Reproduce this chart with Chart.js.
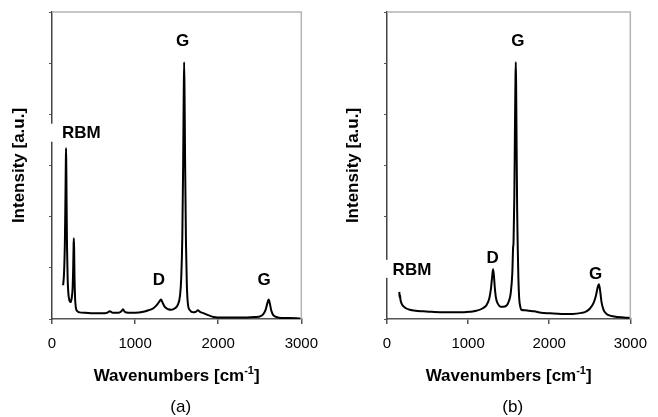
<!DOCTYPE html>
<html>
<head>
<meta charset="utf-8">
<script src="https://cdn.jsdelivr.net/npm/chart.js@4.4.1/dist/chart.umd.min.js"></script>
<style>
  html, body { margin: 0; padding: 0; background: #fff; }
  #wrap { position: relative; width: 658px; height: 417px; }
  .panel { position: absolute; top: 0; width: 329px; height: 417px; }
  #panelA { left: 0; }
  #panelB { left: 329px; }
</style>
</head>
<body>
<div id="wrap">
  <div class="panel" id="panelA"><canvas id="chartA" width="329" height="417"></canvas></div>
  <div class="panel" id="panelB"><canvas id="chartB" width="329" height="417"></canvas></div>
</div>
<script>
// x axis: Raman shift, 0 - 3000 cm-1
const xTicks = [0, 1000, 2000, 3000];

// Panel (a) spectrum
const wavenumbersA = [134, 145, 155, 162, 166, 169, 172, 176, 181, 188, 197, 210, 224, 238, 248, 255, 260, 263, 266, 271, 278, 287, 300, 331, 400, 500, 600, 660, 697, 730, 800, 835, 854, 875, 920, 1000, 1100, 1160, 1220, 1265, 1295, 1312, 1330, 1360, 1400, 1433, 1480, 1515, 1540, 1555, 1568, 1578, 1585, 1590, 1595, 1602, 1612, 1622, 1635, 1660, 1700, 1730, 1756, 1780, 1830, 1890, 1945, 2050, 2200, 2350, 2450, 2500, 2540, 2570, 2590, 2607, 2622, 2638, 2660, 2700, 2760, 2850, 2990];
const intensityA = [0.66, 0.9, 1.5, 2.4, 3.0, 3.34, 3.0, 2.2, 1.4, 0.8, 0.5, 0.36, 0.33, 0.42, 0.6, 1.0, 1.45, 1.58, 1.4, 0.8, 0.4, 0.22, 0.16, 0.13, 0.12, 0.11, 0.11, 0.12, 0.15, 0.12, 0.12, 0.15, 0.19, 0.14, 0.12, 0.12, 0.14, 0.17, 0.21, 0.28, 0.35, 0.38, 0.32, 0.23, 0.19, 0.18, 0.21, 0.28, 0.45, 0.8, 1.6, 3.0, 4.4, 5.02, 4.4, 3.0, 1.5, 0.7, 0.3, 0.17, 0.13, 0.14, 0.17, 0.14, 0.11, 0.07, 0.04, 0.03, 0.03, 0.03, 0.04, 0.05, 0.09, 0.18, 0.3, 0.38, 0.3, 0.17, 0.08, 0.04, 0.02, 0.02, 0.01];

// Panel (b) spectrum
const wavenumbersB = [152, 156, 160, 166, 180, 200, 233, 280, 352, 450, 550, 708, 850, 950, 1024, 1100, 1182, 1230, 1261, 1282, 1298, 1308, 1318, 1330, 1345, 1370, 1400, 1440, 1479, 1505, 1525, 1545, 1555, 1560, 1570, 1578, 1584, 1588, 1592, 1598, 1605, 1612, 1620, 1630, 1645, 1657, 1700, 1750, 1814, 1900, 2012, 2150, 2289, 2400, 2447, 2500, 2546, 2575, 2598, 2613, 2628, 2645, 2670, 2700, 2724, 2800, 2921, 3000];
const intensityB = [0.53, 0.42, 0.47, 0.38, 0.3, 0.25, 0.21, 0.18, 0.16, 0.15, 0.14, 0.13, 0.13, 0.13, 0.14, 0.16, 0.21, 0.28, 0.4, 0.6, 0.85, 0.97, 0.85, 0.6, 0.4, 0.29, 0.24, 0.24, 0.27, 0.36, 0.5, 0.9, 1.4, 1.49, 2.4, 3.8, 4.7, 5.02, 4.6, 3.4, 2.1, 1.4, 0.8, 0.4, 0.23, 0.18, 0.17, 0.16, 0.15, 0.12, 0.11, 0.1, 0.1, 0.12, 0.14, 0.2, 0.31, 0.45, 0.62, 0.68, 0.55, 0.33, 0.18, 0.11, 0.08, 0.05, 0.03, 0.02];

// Peak names and where they sit (wavenumber, intensity)
const peakLabelsA = [
  { text: 'RBM', x: 354, y: 3.64, box: true },
  { text: 'G', x: 1571, y: 5.44 },
  { text: 'D', x: 1287, y: 0.78 },
  { text: 'G', x: 2551, y: 0.78 }
];
const peakLabelsB = [
  { text: 'RBM', x: 308, y: 0.98, box: true },
  { text: 'D', x: 1304, y: 1.21 },
  { text: 'G', x: 1613, y: 5.44 },
  { text: 'G', x: 2573, y: 0.90 }
];

const FONT = "'Liberation Sans', Arial, sans-serif";

// Draws peak names, x axis title with superscript, caption and light frame
const decorPlugin = {
  id: 'decor',
  afterDraw(chart, args, opts) {
    const { ctx, chartArea, scales } = chart;
    ctx.save();

    // light grey top / right frame
    ctx.strokeStyle = '#b4b4b4';
    ctx.lineWidth = 1.5;
    ctx.beginPath();
    ctx.moveTo(chartArea.left, chartArea.top);
    ctx.lineTo(chartArea.right, chartArea.top);
    ctx.lineTo(chartArea.right, chartArea.bottom);
    ctx.stroke();

    // peak labels
    ctx.font = 'bold 17px ' + FONT;
    ctx.textAlign = 'center';
    ctx.textBaseline = 'middle';
    opts.labels.forEach(l => {
      const px = scales.x.getPixelForValue(l.x);
      const py = scales.y.getPixelForValue(l.y);
      const w = ctx.measureText(l.text).width;
      if (l.box) {
        ctx.fillStyle = '#fff';
        ctx.fillRect(px - w / 2 - 12, py - 9, w + 15, 18);
      }
      ctx.fillStyle = '#000';
      ctx.fillText(l.text, px, py + 1);
    });

    // x axis title: Wavenumbers [cm-1]
    const cx = (chartArea.left + chartArea.right) / 2;
    const ty = 375;
    const big = 'bold 17px ' + FONT;
    const small = 'bold 11px ' + FONT;
    ctx.font = big;
    const w1 = ctx.measureText('Wavenumbers [cm').width;
    const w3 = ctx.measureText(']').width;
    ctx.font = small;
    const w2 = ctx.measureText('-1').width;
    let x0 = cx - (w1 + w2 + w3) / 2;
    ctx.textAlign = 'left';
    ctx.textBaseline = 'alphabetic';
    ctx.fillStyle = '#000';
    ctx.font = big;
    ctx.fillText('Wavenumbers [cm', x0, ty + 6);
    ctx.font = small;
    ctx.fillText('-1', x0 + w1, ty - 1);
    ctx.font = big;
    ctx.fillText(']', x0 + w1 + w2, ty + 6);

    // caption under the panel
    ctx.font = '17px ' + FONT;
    ctx.textAlign = 'center';
    ctx.textBaseline = 'middle';
    ctx.fillText(opts.caption, cx + 4, 407);

    ctx.restore();
  }
};

function makeSpectrum(canvasId, wavenumbers, intensity, labels, caption, yAxisWidth, padRight, titlePad) {
  const points = wavenumbers.map((w, i) => ({ x: w, y: intensity[i] }));
  return new Chart(document.getElementById(canvasId), {
    type: 'line',
    data: {
      datasets: [{
        data: points,
        borderColor: '#000',
        borderWidth: 2,
        pointRadius: 0,
        cubicInterpolationMode: 'monotone',
        fill: false
      }]
    },
    options: {
      responsive: false,
      animation: false,
      layout: { padding: { left: 0, right: padRight, top: 12, bottom: 0 } },
      plugins: {
        legend: { display: false },
        tooltip: { enabled: false },
        decor: { labels: labels, caption: caption }
      },
      scales: {
        x: {
          type: 'linear',
          min: 0,
          max: 3000,
          afterBuildTicks: (scale) => {
            scale.ticks = xTicks.map(v => ({ value: v }));
          },
          afterFit: (scale) => { scale.height = 98; },
          grid: { drawOnChartArea: false, drawTicks: true, tickLength: 5, color: '#555', lineWidth: 1.5 },
          border: { color: '#555', width: 1.5 },
          ticks: {
            color: '#000',
            padding: 11,
            maxRotation: 0,
            callback: (v) => String(v),
            font: { family: FONT, size: 15 }
          }
        },
        y: {
          min: 0,
          max: 6,
          ticks: { stepSize: 1, display: false },
          afterFit: (scale) => { scale.width = yAxisWidth; },
          grid: { drawOnChartArea: false, drawTicks: true, tickLength: 3, color: '#555' },
          border: { color: '#444', width: 1.5 },
          title: {
            display: true,
            text: 'Intensity [a.u.]',
            color: '#000',
            padding: { top: titlePad, bottom: 0 },
            font: { family: FONT, size: 17, weight: 'bold' }
          }
        }
      }
    },
    plugins: [decorPlugin]
  });
}

makeSpectrum('chartA', wavenumbersA, intensityA, peakLabelsA, '(a)', 52, 23, 9);
makeSpectrum('chartB', wavenumbersB, intensityB, peakLabelsB, '(b)', 58, 18, 14);
</script>
</body>
</html>
